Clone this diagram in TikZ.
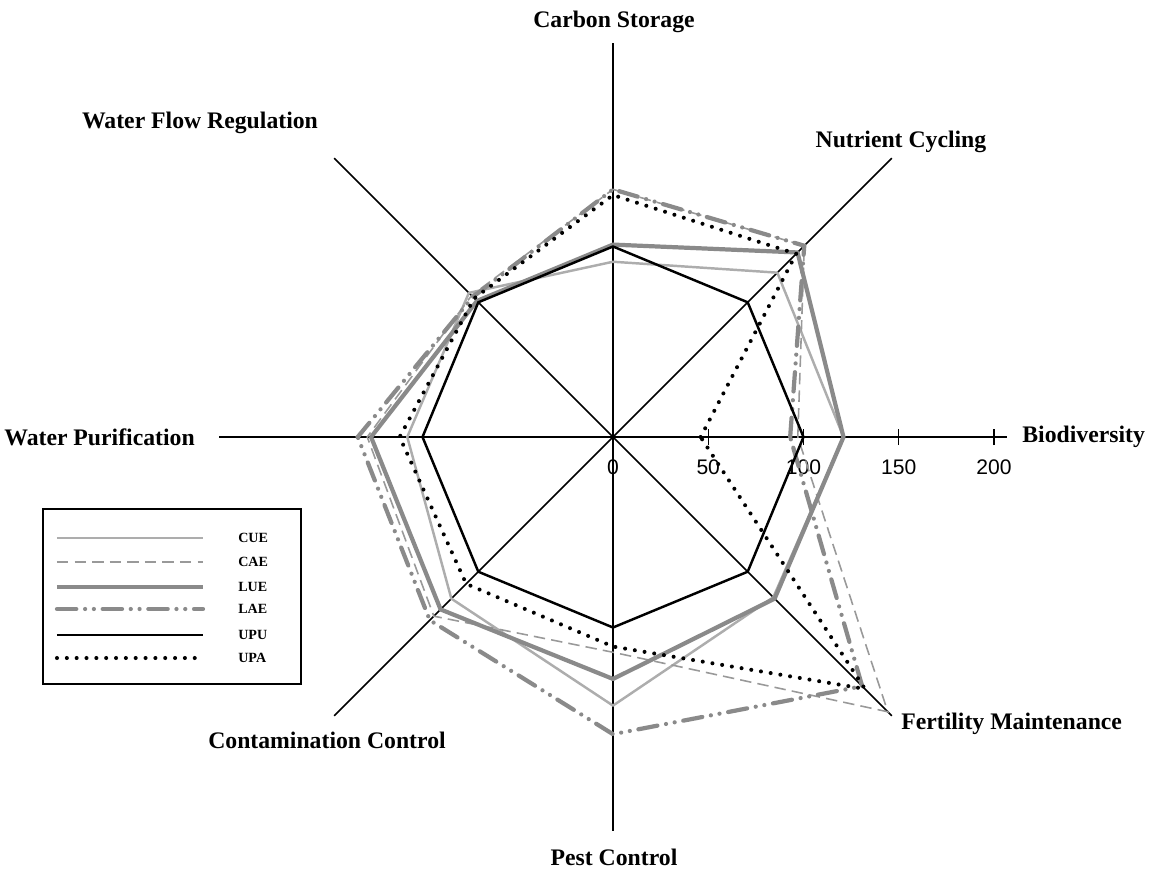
\documentclass[tikz,border=0pt]{standalone}
\usepackage{fontspec}
\setmainfont{Liberation Serif}
\newfontfamily\tickfont{Liberation Sans}
\usetikzlibrary{calc, positioning}
\definecolor{cuegray}{gray}{0.68}
\definecolor{caegray}{gray}{0.60}
\definecolor{luegray}{gray}{0.54}
\tikzset{
  axisline/.style={black, line width=0.85pt},
  axislabel/.style={font=\bfseries\fontsize{13.5}{16}\selectfont, inner sep=0pt},
  ticklabel/.style={font=\tickfont\fontsize{12}{14}\selectfont, inner sep=0pt},
  legendlabel/.style={font=\bfseries\fontsize{8}{10}\selectfont, anchor=west, inner sep=0pt},
  cue/.style={draw=cuegray, line width=1.4pt, line join=round},
  cae/.style={draw=caegray, line width=0.9pt, dash pattern=on 6.5pt off 3.5pt},
  lue/.style={draw=luegray, line width=2.4pt, line join=round},
  lae/.style={draw=luegray, line width=2.4pt, line cap=round, dash pattern=on 11pt off 5pt on 0pt off 5pt on 0pt off 5pt},
  upu/.style={draw=black, line width=1.4pt, line join=round},
  upa/.style={draw=black, line width=2.3pt, line cap=round, dash pattern=on 0pt off 5.6pt},
}
\begin{document}
\begin{tikzpicture}[x=0.02cm, y=0.02cm]
  \useasboundingbox (-613,-433) rectangle (540,437);
  \begin{scope}[scale=1.905]
    % Axes
    \foreach \a in {0,45,...,315}
      \draw[axisline] (0,0) -- (\a:207);
    % Ticks on the biodiversity axis
    \foreach \t in {50,100,150,200}
      \draw[axisline] (\t,-4.2) -- (\t,4.2);
    \foreach \t in {0,50,100,150,200}
      \node[ticklabel] (tick\t) at (\t,-15.8) {\t};
    % Series
    \draw[cue] (0:121) -- (45:122) -- (90:92) -- (135:107) -- (180:108) -- (225:120) -- (270:141) -- (315:119) -- cycle;
    \draw[cae] (0:97) -- (45:142) -- (90:130) -- (135:105) -- (180:129) -- (225:133) -- (270:113) -- (315:204) -- cycle;
    \draw[lue] (0:121) -- (45:137) -- (90:101) -- (135:101) -- (180:127) -- (225:128) -- (270:127) -- (315:120) -- cycle;
    \draw[lae] (0:93) -- (45:142) -- (90:130) -- (135:104) -- (180:134) -- (225:136) -- (270:156) -- (315:185) -- cycle;
    \draw[upu] (0:100) -- (45:100) -- (90:100) -- (135:100) -- (180:100) -- (225:100) -- (270:100) -- (315:100) -- cycle;
    \draw[upa] (0:46) -- (45:136) -- (90:127) -- (135:103) -- (180:112) -- (225:109) -- (270:110) -- (315:187) -- cycle;
  \end{scope}
  % Axis labels
  \node[axislabel] (carbon) at (1,415) {Carbon Storage};
  \node[axislabel] (nutrient) at (288,295) {Nutrient Cycling};
  \node[axislabel, anchor=west] (biodiv) at (409,0) {Biodiversity};
  \node[axislabel, anchor=west] (fertility) at (288,-287) {Fertility Maintenance};
  \node[axislabel] (pest) at (1,-420) {Pest Control};
  \node[axislabel] (contam) at (-286,-303) {Contamination Control};
  \node[axislabel, anchor=west] (purif) at (-609,0) {Water Purification};
  \node[axislabel] (flow) at (-413,314) {Water Flow Regulation};
  % Legend
  \draw[axisline] (-570,-72) rectangle (-312,-247);
  \foreach \s/\n/\y in {cue/CUE/-101, cae/CAE/-125, lue/LUE/-150, lae/LAE/-172, upu/UPU/-198, upa/UPA/-221} {
    \draw[\s] (-556,\y) -- (-410,\y);
    \node[legendlabel] (leg\s) at (-375,\y) {\n};
  }
\end{tikzpicture}
\end{document}
